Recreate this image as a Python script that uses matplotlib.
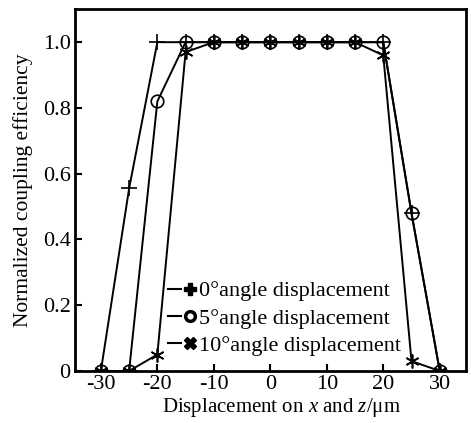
import matplotlib
matplotlib.use("Agg")
import matplotlib.pyplot as plt
from matplotlib.lines import Line2D
from matplotlib.legend_handler import HandlerTuple

plt.rcParams['font.family'] = ['Liberation Serif', 'DejaVu Serif']
plt.rcParams['mathtext.fontset'] = 'custom'
plt.rcParams['mathtext.it'] = 'Liberation Serif:italic'
plt.rcParams['mathtext.rm'] = 'Liberation Serif'

x = [-30, -25, -20, -15, -10, -5, 0, 5, 10, 15, 20, 25, 30]
eff_0deg = [0.0, 0.555, 1.0, 1.0, 1.0, 1.0, 1.0, 1.0, 1.0, 1.0, 1.0, 0.48, 0.0]
eff_5deg = [0.0, 0.0, 0.82, 1.0, 1.0, 1.0, 1.0, 1.0, 1.0, 1.0, 1.0, 0.48, 0.0]
eff_10deg = [0.0, 0.0, 0.05, 0.97, 1.0, 1.0, 1.0, 1.0, 1.0, 1.0, 0.96, 0.03, 0.0]
labels = ['0°angle displacement', '5°angle displacement', '10°angle displacement']
xticks = [-30, -20, -10, 0, 10, 20, 30]
yticks = [0, 0.2, 0.4, 0.6, 0.8, 1.0]
yticklabels = ['0', '0.2', '0.4', '0.6', '0.8', '1.0']

fig = plt.figure(figsize=(4.71, 4.23), dpi=100)
ax = fig.add_axes([0.159, 0.123, 0.831, 0.855])

lw = 1.4
ax.plot(x, eff_0deg, color='black', lw=lw, marker='+', ms=11, mew=1.2)
ax.plot(x, eff_5deg, color='black', lw=lw, marker='o', ms=9, mfc='none', mew=1.2)
ax.plot(x, eff_10deg, color='black', lw=lw, marker=(6, 2, 0), ms=10, mew=1.2)

ax.set_xlim(-34.6, 34.7)
ax.set_ylim(0, 1.10)
ax.set_xticks(xticks)
ax.set_xticklabels([str(v) for v in xticks])
ax.set_yticks(yticks)
ax.set_yticklabels(yticklabels)
ax.tick_params(direction='in', length=5, width=1.5, labelsize=16, top=False, right=False, pad=3)
for s in ax.spines.values():
    s.set_linewidth(2)

ax.set_xlabel(r'Displacement on $\mathit{x}$ and $\mathit{z}$/μm', fontsize=15, labelpad=0)
ax.xaxis.set_label_coords(0.527, -0.07)
ax.set_ylabel('Normalized coupling efficiency', fontsize=15.5, labelpad=7)

dash = Line2D([], [], color='black', lw=1.5)
h0 = (dash, Line2D([], [], color='black', ls='none', marker='P', ms=8))
h1 = (dash, Line2D([], [], color='black', ls='none', marker='o', ms=7, mfc='none', mew=2.5))
h2 = (dash, Line2D([], [], color='black', ls='none', marker='X', ms=8))
leg = ax.legend([h0, h1, h2], labels, handler_map={tuple: HandlerTuple(ndivide=None, pad=0.1)},
                loc='lower left', bbox_to_anchor=(0.215, 0.017), frameon=False,
                fontsize=16, handlelength=1.3, handletextpad=0.1, labelspacing=0.3,
                borderaxespad=0)

fig.savefig('out.png', dpi=100)
